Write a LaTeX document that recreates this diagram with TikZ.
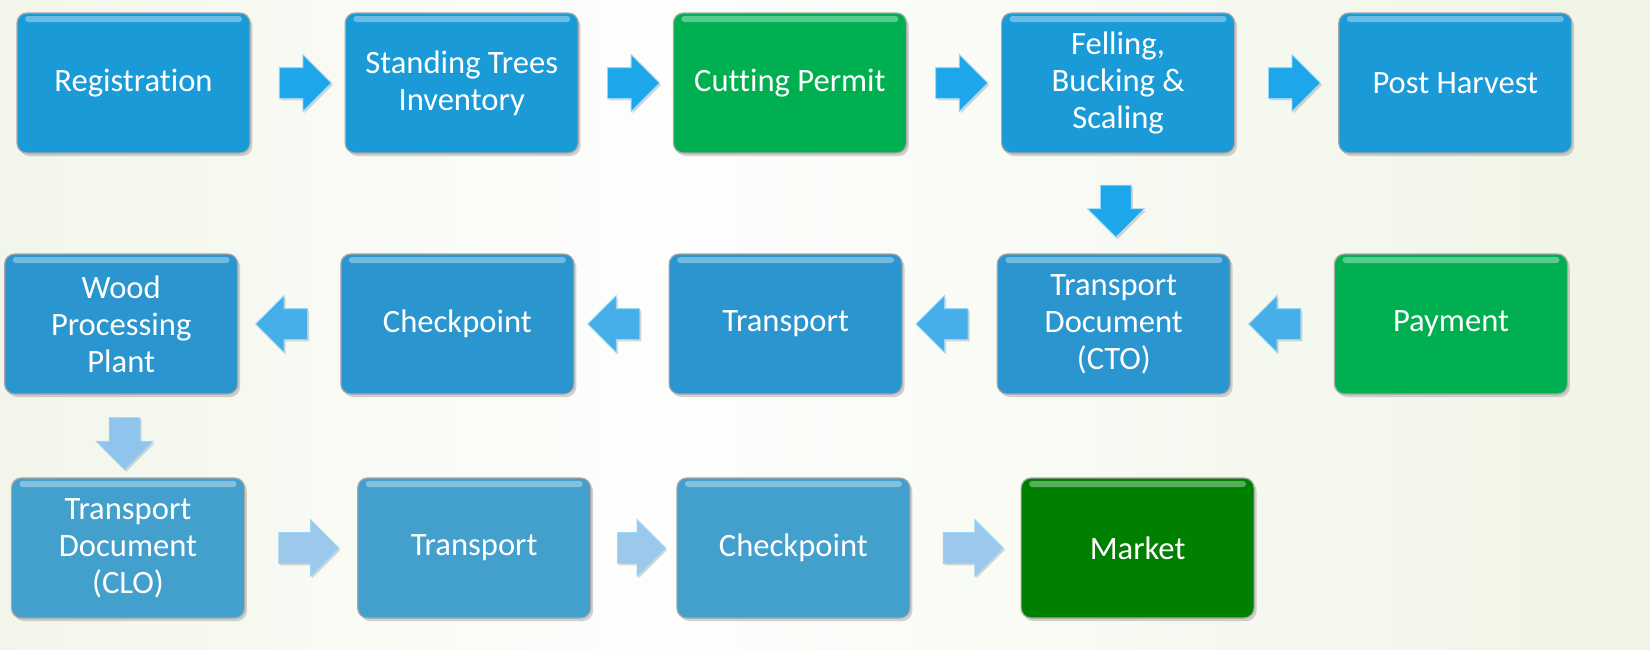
\documentclass[tikz,border=0pt]{standalone}
\usepackage{fontspec}
\setmainfont{Carlito}[Ligatures=NoCommon]
\usetikzlibrary{positioning,shapes.arrows,shadows,calc}

\definecolor{bgside}{HTML}{E4ECD2}
\definecolor{blueA}{HTML}{1A9BD7}
\definecolor{blueB}{HTML}{2A95CE}
\definecolor{blueC}{HTML}{43A0CD}
\definecolor{greenA}{HTML}{00B050}
\definecolor{greenB}{HTML}{008000}
\definecolor{arrowA}{HTML}{1DA6EA}
\definecolor{arrowB}{HTML}{46AFEA}
\definecolor{arrowC}{HTML}{9CC8EC}
\pgfdeclarehorizontalshading{bgshade}{100bp}{color(0bp)=(bgside); color(45bp)=(white!95!bgside); color(100bp)=(bgside)}

\begin{document}
\begin{tikzpicture}[x=0.5pt,y=0.5pt,node distance=47pt]
    \tikzstyle{block} = [rectangle, rounded corners=5pt, draw=black!35,
        line width=0.6pt, text=white, align=center, minimum width=116.5pt,
        minimum height=70pt, font=\fontsize{16.3}{18.5}\selectfont,
        drop shadow={shadow xshift=1.2pt, shadow yshift=-1.5pt, opacity=0.35},
        path picture={\fill[white, opacity=0.35, rounded corners=1.5pt]
          ($(path picture bounding box.north west)+(4pt,-1.5pt)$) rectangle
          ($(path picture bounding box.north east)+(-4pt,-4.5pt)$);}]
    \tikzstyle{blockarrow} = [single arrow, draw=white!55!arrowA, inner sep=7.5pt,
        minimum height=26pt, single arrow head extend=6.5pt,
        drop shadow={shadow xshift=0.8pt, shadow yshift=-1pt, opacity=0.3}]

    % background
    \useasboundingbox (0,0) rectangle (1650,-649);
    \fill[shading=bgshade] (0,0) rectangle (1650,-649);

    % Harvest
    \node[block, fill=blueA] at (133.5,-83) (reg) {Registration};
    \node[block, fill=blueA, right=of reg] (trees) {Standing Trees\\Inventory};
    \node[block, fill=greenA, right=of trees] (permit) {Cutting Permit};
    \node[block, fill=blueA, right=of permit] (felling) {Felling,\\Bucking \&\\Scaling};
    \node[block, fill=blueA, right=51.5pt of felling] (post) {Post Harvest};

    % Payment and first transport
    \node[block, fill=greenA] at (1451,-324) (pay) {Payment};
    \node[block, fill=blueB, left=51.5pt of pay] (cto) {Transport\\Document\\(CTO)};
    \node[block, fill=blueB, left=of cto] (trans1) {Transport};
    \node[block, fill=blueB, left=of trans1] (check1) {Checkpoint};
    \node[block, fill=blueB, left=51pt of check1] (plant) {Wood\\Processing\\Plant};

    % Second transport
    \node[block, fill=blueC] at (128,-548) (clo) {Transport\\Document\\(CLO)};
    \node[block, fill=blueC, right=56pt of clo] (trans2) {Transport};
    \node[block, fill=blueC, right=42.5pt of trans2] (check2) {Checkpoint};
    \node[block, fill=greenB, right=55pt of check2] (market) {Market};

    % arrows
    \node[blockarrow, fill=arrowA] at ($(reg.east)!.5!(trees.west)$) (a1) {};
    \node[blockarrow, fill=arrowA] at ($(trees.east)!.5!(permit.west)$) (a2) {};
    \node[blockarrow, fill=arrowA] at ($(permit.east)!.5!(felling.west)$) (a3) {};
    \node[blockarrow, fill=arrowA] at ($(felling.east)!.5!(post.west)$) (a4) {};
    \node[blockarrow, fill=arrowA, shape border rotate=270]
        at ($(felling.south)!.5!(cto.north)$) (a5) {};
    \node[blockarrow, fill=arrowB, shape border rotate=180]
        at ($(pay.west)!.5!(cto.east)$) (a6) {};
    \node[blockarrow, fill=arrowB, shape border rotate=180]
        at ($(cto.west)!.5!(trans1.east)$) (a7) {};
    \node[blockarrow, fill=arrowB, shape border rotate=180]
        at ($(trans1.west)!.5!(check1.east)$) (a8) {};
    \node[blockarrow, fill=arrowB, shape border rotate=180]
        at ($(check1.west)!.5!(plant.east)$) (a9) {};
    \node[blockarrow, fill=arrowC!85!arrowB, shape border rotate=270]
        at ($(plant.south)!.5!(clo.north)$) (a10) {};
    \node[blockarrow, fill=arrowC, minimum height=30pt]
        at ($(clo.east)!.5!(trans2.west)$) (a11) {};
    \node[blockarrow, fill=arrowC, minimum height=24pt]
        at ($(trans2.east)!.5!(check2.west)$) (a12) {};
    \node[blockarrow, fill=arrowC, minimum height=30pt]
        at ($(check2.east)!.5!(market.west)$) (a13) {};
\end{tikzpicture}
\end{document}
